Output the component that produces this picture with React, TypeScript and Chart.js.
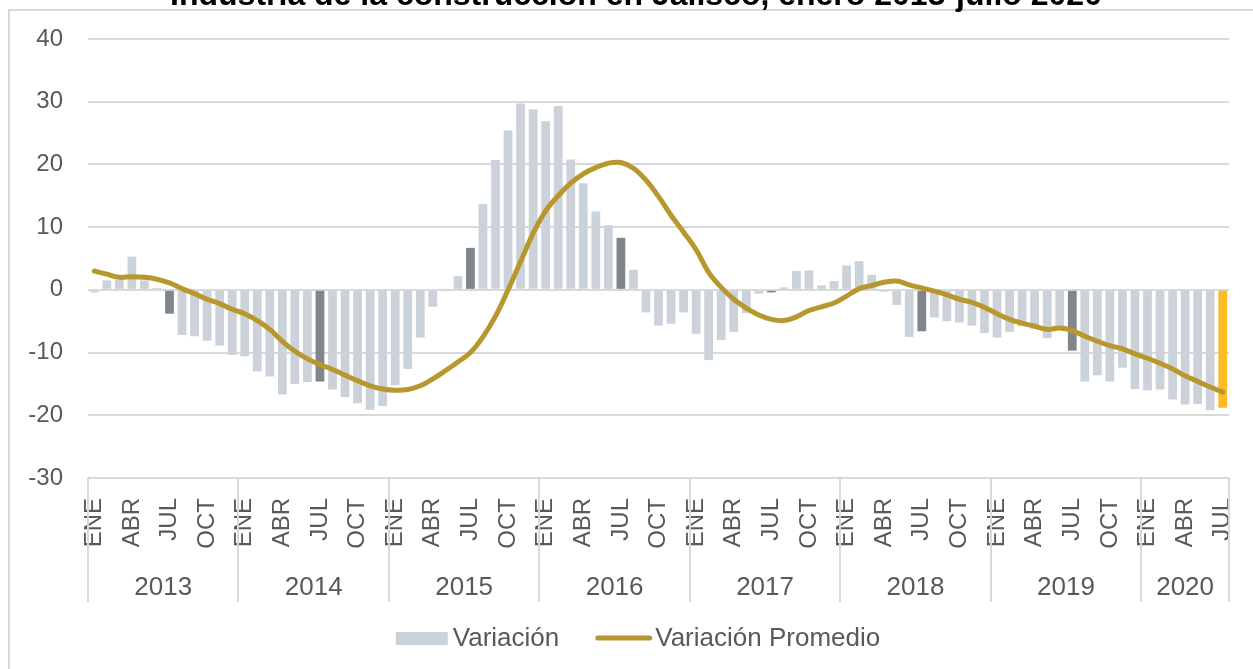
import React, { useEffect, useRef } from "react";
import { Chart, registerables } from "chart.js";

Chart.register(...registerables);

const TITLE = "Industria de la construcción en Jalisco, enero 2013-julio 2020";
const MONTHS = ["ENE", "FEB", "MAR", "ABR", "MAY", "JUN", "JUL", "AGO", "SEP", "OCT", "NOV", "DIC"];
const YEARS = ["2013", "2014", "2015", "2016", "2017", "2018", "2019", "2020"];
const MONTHS_PER_YEAR = [12, 12, 12, 12, 12, 12, 12, 7];
const SHOWN_MONTHS = ["ENE", "ABR", "JUL", "OCT"];
const Y_MIN = -30;
const Y_MAX = 40;
const Y_STEP = 10;

const variacion = [
  // 2013
  -0.4, 1.5, 1.6, 5.3, 1.5, 0.3, -3.8, -7.2, -7.4, -8.1, -8.9, -10.4,
  // 2014
  -10.6, -13.0, -13.8, -16.7, -15.0, -14.7, -14.6, -15.9, -17.1, -18.1, -19.1, -18.5,
  // 2015
  -15.2, -12.6, -7.6, -2.7, 0.1, 2.2, 6.7, 13.7, 20.7, 25.4, 29.7, 28.8,
  // 2016
  26.9, 29.3, 20.8, 17.0, 12.5, 10.3, 8.3, 3.2, -3.6, -5.7, -5.4, -3.6,
  // 2017
  -7.0, -11.2, -8.0, -6.7, -3.7, -0.6, -0.4, 0.4, 3.0, 3.1, 0.7, 1.4,
  // 2018
  3.9, 4.6, 2.4, -0.3, -2.4, -7.5, -6.6, -4.4, -5.0, -5.2, -5.7, -6.9,
  // 2019
  -7.6, -6.7, -5.8, -6.2, -7.7, -6.4, -9.7, -14.6, -13.6, -14.6, -12.4, -15.8,
  // 2020
  -16.0, -15.9, -17.5, -18.3, -18.2, -19.2, -18.8,
];

const variacionPromedio = [
  // 2013
  3.0, 2.5, 2.0, 2.1, 2.0, 1.7, 1.1, 0.2, -0.6, -1.5, -2.2, -3.1,
  // 2014
  -3.8, -4.9, -6.3, -8.2, -9.8, -11.0, -11.9, -12.7, -13.6, -14.5, -15.3, -15.8,
  // 2015
  -16.0, -15.9, -15.3, -14.2, -12.9, -11.5, -10.0, -7.5, -4.2, 0.0, 4.5, 9.0,
  // 2016
  12.6, 15.0, 17.0, 18.5, 19.5, 20.2, 20.3, 19.4, 17.5, 14.9, 11.9, 9.2,
  // 2017
  6.4, 2.8, 0.4, -1.5, -2.9, -4.0, -4.7, -4.9, -4.3, -3.3, -2.7, -2.1,
  // 2018
  -1.0, 0.2, 0.7, 1.2, 1.4, 0.8, 0.3, -0.2, -0.8, -1.5, -2.0, -2.8,
  // 2019
  -3.8, -4.7, -5.3, -5.8, -6.3, -6.1, -6.5, -7.4, -8.2, -8.9, -9.4, -10.2,
  // 2020
  -10.9, -11.7, -12.6, -13.7, -14.6, -15.5, -16.3,
];

const LIGHT = "#CBD2D9";
const DARK = "#7F878D";
const YELLOW = "#FBBA26";
const GOLD = "#B8972F";
const GRID = "#D9D9D9";
const TEXT = "#595959";
const FONT = '"Liberation Sans", Arial, Helvetica, sans-serif';

const W = 1253;
const H = 669;

const decorPlugin = {
  id: "decor",
  beforeDraw(chart: any) {
    const ctx = chart.ctx as CanvasRenderingContext2D;
    ctx.save();
    ctx.fillStyle = "#ffffff";
    ctx.fillRect(0, 0, chart.width, chart.height);
    // frame
    ctx.strokeStyle = GRID;
    ctx.lineWidth = 2;
    ctx.beginPath();
    ctx.moveTo(9, chart.height + 5);
    ctx.lineTo(9, 10);
    ctx.lineTo(chart.width + 5, 10);
    ctx.stroke();
    // title (cut off at the top as in the reference)
    ctx.fillStyle = "#000000";
    ctx.font = `bold 32px ${FONT}`;
    ctx.textAlign = "center";
    ctx.textBaseline = "alphabetic";
    ctx.fillText(TITLE, 636, 5);
    ctx.restore();
  },
  afterDraw(chart: any) {
    const ctx = chart.ctx as CanvasRenderingContext2D;
    const x = chart.scales.x;
    const area = chart.chartArea;
    const half = (x.getPixelForValue(1) - x.getPixelForValue(0)) / 2;
    ctx.save();
    // year separators and labels
    ctx.strokeStyle = GRID;
    ctx.lineWidth = 2;
    ctx.fillStyle = TEXT;
    ctx.font = `26px ${FONT}`;
    ctx.textAlign = "center";
    ctx.textBaseline = "alphabetic";
    let start = 0;
    const drawSep = (px: number) => {
      const p = Math.round(px);
      ctx.beginPath();
      ctx.moveTo(p, area.bottom);
      ctx.lineTo(p, area.bottom + 124);
      ctx.stroke();
    };
    YEARS.forEach((yr, k) => {
      const n = MONTHS_PER_YEAR[k];
      const left = x.getPixelForValue(start) - half;
      const right = x.getPixelForValue(start + n - 1) + half;
      drawSep(left);
      if (k === YEARS.length - 1) drawSep(right);
      ctx.fillText(yr, (left + right) / 2, 595);
      start += n;
    });

    // legend
    ctx.font = `26px ${FONT}`;
    ctx.textAlign = "left";
    const t1 = "Variación";
    const t2 = "Variación Promedio";
    const w1 = ctx.measureText(t1).width;
    const w2 = ctx.measureText(t2).width;
    const sw1 = 52, g1 = 5, gap = 36, sw2 = 57, g2 = 3;
    const total = sw1 + g1 + w1 + gap + sw2 + g2 + w2;
    let lx = 638 - total / 2;
    const baseY = 646;
    ctx.fillStyle = LIGHT;
    ctx.fillRect(lx, 632, sw1, 13);
    lx += sw1 + g1;
    ctx.fillStyle = TEXT;
    ctx.fillText(t1, lx, baseY);
    lx += w1 + gap;
    ctx.strokeStyle = GOLD;
    ctx.lineWidth = 5;
    ctx.lineCap = "round";
    ctx.beginPath();
    ctx.moveTo(lx + 2.5, 638);
    ctx.lineTo(lx + sw2 - 2.5, 638);
    ctx.stroke();
    lx += sw2 + g2;
    ctx.fillStyle = TEXT;
    ctx.fillText(t2, lx, baseY);
    ctx.restore();
  },
};

export default function App() {
  const ref = useRef<HTMLCanvasElement>(null);

  useEffect(() => {
    const canvas = ref.current;
    if (!canvas) return;
    const labels: string[] = [];
    YEARS.forEach((_, k) => {
      for (let m = 0; m < MONTHS_PER_YEAR[k]; m++) labels.push(MONTHS[m]);
    });
    const colors = variacion.map((_, i) =>
      i === variacion.length - 1 ? YELLOW : labels[i] === "JUL" ? DARK : LIGHT
    );

    const chart = new Chart(canvas, {
      type: "bar",
      data: {
        labels,
        datasets: [
          {
            type: "line",
            label: "Variación Promedio",
            data: variacionPromedio,
            borderColor: GOLD,
            backgroundColor: GOLD,
            borderWidth: 5,
            pointRadius: 0,
            pointHoverRadius: 0,
            tension: 0.4,
            borderCapStyle: "round",
            borderJoinStyle: "round",
            fill: false,
            order: 0,
          } as any,
          {
            type: "bar",
            label: "Variación",
            data: variacion,
            backgroundColor: colors,
            barPercentage: 0.7,
            categoryPercentage: 1,
            order: 1,
          } as any,
        ],
      },
      options: {
        responsive: false,
        animation: false,
        devicePixelRatio: 1,
        events: [],
        layout: { padding: { left: 0, top: 39, right: 24, bottom: 0 } },
        plugins: {
          legend: { display: false },
          title: { display: false },
          tooltip: { enabled: false },
        },
        scales: {
          x: {
            grid: { display: false, drawTicks: false },
            border: { display: false },
            ticks: {
              autoSkip: false,
              maxRotation: 90,
              minRotation: 90,
              padding: 20,
              color: TEXT,
              font: { family: FONT, size: 24 },
              callback: (_v: any, i: number) => (SHOWN_MONTHS.includes(labels[i]) ? labels[i] : ""),
            },
            afterFit: (s: any) => {
              s.height = 191;
              s.paddingLeft = 0;
              s.paddingRight = 0;
            },
          },
          y: {
            min: Y_MIN,
            max: Y_MAX,
            grid: { color: GRID, lineWidth: 2, drawTicks: false },
            border: { display: false },
            ticks: {
              stepSize: Y_STEP,
              padding: 25,
              color: TEXT,
              font: { family: FONT, size: 24 },
            },
            afterFit: (s: any) => {
              s.width = 88;
              s.paddingTop = 0;
              s.paddingBottom = 0;
            },
          },
        },
      } as any,
      plugins: [decorPlugin],
    });
    return () => chart.destroy();
  }, []);

  return (
    <div style={{ position: "absolute", left: 0, top: 0, width: W, height: H, overflow: "hidden", background: "#fff" }}>
      <canvas ref={ref} width={W} height={H} style={{ display: "block", width: W, height: H }} />
    </div>
  );
}
